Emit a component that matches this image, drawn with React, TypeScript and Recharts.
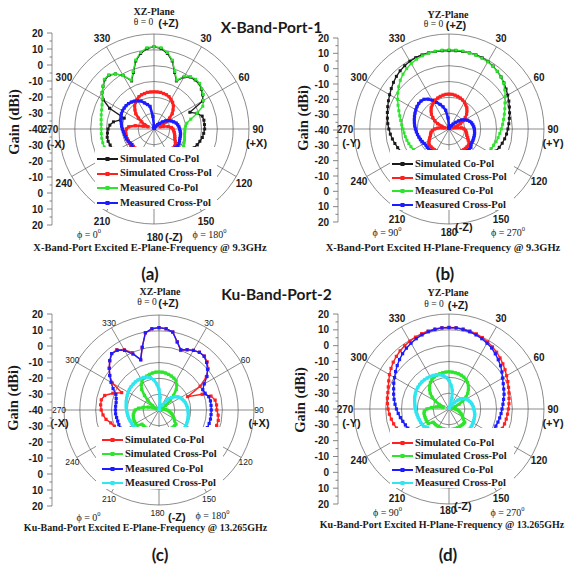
import React from "react";
import {
  RadarChart,
  Radar,
  PolarGrid,
  PolarAngleAxis,
  PolarRadiusAxis,
  Legend,
  LineChart,
  Line,
  XAxis,
  YAxis,
} from "recharts";

// polar angle categories (theta, clockwise from +Z), 5 degree steps
const thetaDeg = [
  0, 5, 10, 15, 20, 25, 30, 35, 40, 45, 50, 55, 60, 65, 70, 75, 80, 85, 90, 95, 100, 105, 110, 115,
  120, 125, 130, 135, 140, 145, 150, 155, 160, 165, 170, 175, 180, 185, 190, 195, 200, 205, 210, 215,
  220, 225, 230, 235, 240, 245, 250, 255, 260, 265, 270, 275, 280, 285, 290, 295, 300, 305, 310, 315,
  320, 325, 330, 335, 340, 345, 350, 355,
];
const spokeAngles = [0, 30, 60, 90, 120, 150, 180, 210, 240, 270, 300, 330];
const ringTicks = [-30, -20, -10, 0, 10, 20];
// folded gain scale: 20 ... -40 (centre) ... 20
const gainTicks = [-60, -55, -50, -45, -40, -35, -30, -25, -20, -15, -10, -5, 0, 5, 10, 15, 20, 25, 30, 35, 40, 45, 50, 55, 60];

// (a) X-band E-plane, gain in dBi
const aSimCo = [
  12, 11, 8.5, 4.5, -2, -6.5, -2, 0, 0.5, 0.5, -1, -2.5, -4.5, -15, -11, -8.5, -8, -8, -8, -8.5, -9, -10, -11, -12, -13, -14,
  -15, -15, -15, -15, -15, -15, -15, -15, -15, -15, -15, -15, -15, -15, -15, -15, -15, -15, -15, -15, -15,
  -12, -11.5, -11, -10.5, -10, -10, -10.5, -11, -12, -14, -18, -20, -9, -3, 0, 2, 4, 4.3, 2.5, -1, -6.5, -2, 4.5, 8.5, 11,
];
const aSimX = [
  -16.5, -16.5, -16.5, -16.8, -17, -17.5, -18.5, -19.5, -21, -23, -25, -28, -31, -33.5, -36, -34, -31, -29, -28, -27.5, -27, -26.5, -26, -25.5, -24.5, -23.5,
  -23, -23, -23, -23, -23, -23, -23, -23, -23, -23, -23, -23, -23, -23, -23, -23, -23, -23, -23, -23, -23,
  -22, -22, -22, -22, -22, -22, -22, -22.5, -24, -28, -33, -36, -33.5, -31, -28, -25, -23, -21, -19.5, -18.5, -17.5, -17, -16.8, -16.5, -16.5,
];
const aMeasCo = [
  12, 11.5, 9, 5, -1.5, -6, -1.5, 0.3, 1, 0.8, -0.5, -2, -4, -6, -11, -16, -19, -20, -20.5, -20.5, -20.5, -20, -19.5, -19, -18.5, -18,
  -18, -18, -18, -18, -18, -18, -18, -18, -18, -18, -18, -18, -18, -18, -18, -18, -18, -18, -18, -18, -18,
  -7, -7, -6.8, -6.6, -6.5, -6.5, -6.6, -6.7, -6.5, -6.1, -5.5, -4.8, -3.8, -2.3, 0, 2, 4.4, 4.5, 2.5, -1, -6, -1.5, 5, 9, 11.5,
];
const aMeasX = [
  -38, -39, -39.5, -39.5, -39.5, -39.5, -39, -38, -36.5, -35, -33, -31, -29.5, -28, -26.8, -25.5, -24.8, -24.2, -23.8, -23.4, -23, -22.8, -22.6, -22.2, -21.8, -21.5,
  -22, -22, -22, -22, -22, -22, -22, -22, -22, -22, -22, -22, -22, -22, -22, -22, -22, -22, -22, -22, -22,
  -23, -22.5, -22, -21.5, -21.3, -21, -20.5, -20, -19.5, -19, -18.4, -17.8, -17.3, -17, -17, -17, -17.3, -17.8, -18.5, -19.5, -20.5, -22.5, -24, -25.5, -32,
];

// (b) X-band H-plane
const bSimCo = [
  9.5, 9.6, 9.7, 9.8, 9.8, 9.6, 9.2, 8.5, 7.5, 6.5, 5.3, 4, 2.8, 1.7, 0.6, -0.4, -1.3, -2.1, -2.8, -3.5, -4.3, -5.2, -6.2, -7.2, -8.2, -9.2,
  -12, -12, -12, -12, -12, -12, -12, -12, -12, -12, -12, -12, -12, -12, -12, -12, -12, -12, -12, -12, -12,
  -8.5, -7.5, -6.5, -5.5, -4.6, -3.7, -2.8, -2, -1.2, -0.5, 0.3, 1.2, 2.2, 3.3, 4.5, 5.8, 7, 8, 8.8, 9.4, 9.7, 9.8, 9.8, 9.7, 9.6,
];
const bSimX = [
  -18, -18, -18.3, -18.7, -19.2, -19.8, -20.5, -21.5, -22.5, -24, -25.5, -27.5, -29.5, -32, -35, -37.5, -35, -32, -30.5, -29.5, -29, -28.5, -28, -27, -26, -24.5,
  -24, -24, -24, -24, -24, -24, -24, -24, -24, -24, -24, -24, -24, -24, -24, -24, -24, -24, -24, -24, -24,
  -24.5, -25.5, -26.5, -27.5, -28, -28.5, -29.5, -31, -33, -36, -37.5, -35, -32, -29.5, -27.5, -25.5, -24, -22.5, -21.5, -20.5, -19.8, -19.2, -18.7, -18.3, -18,
];
const bMeasCo = [
  10, 10, 10, 9.8, 9.6, 9.3, 9, 8.3, 7.5, 6.5, 5, 3, 1, -1, -2.5, -3.8, -5, -6, -7, -7.8, -8.5, -9.2, -10, -10.7, -11.4, -12,
  -14, -14, -14, -14, -14, -14, -14, -14, -14, -14, -14, -14, -14, -14, -14, -14, -14, -14, -14, -14, -14,
  -14.5, -14, -13.5, -13, -12.5, -12, -11.5, -11, -10, -9, -7.8, -6.3, -4.5, -2.5, -0.5, 1.5, 3.5, 5.2, 6.6, 7.7, 8.6, 9.2, 9.6, 9.9, 10,
];
const bMeasX = [
  -38, -39, -39.5, -39.5, -39.5, -39.5, -39, -37.5, -36, -34, -32, -30, -28.5, -27, -26, -25.2, -24.7, -24.3, -24, -23.8, -23.6, -23.5, -23.4, -23.3, -23.2, -23,
  -22, -22, -22, -22, -22, -22, -22, -22, -22, -22, -22, -22, -22, -22, -22, -22, -22, -22, -22, -22, -22,
  -22.2, -21.8, -21.3, -20.8, -20.3, -19.8, -19.3, -18.8, -18.3, -17.8, -17.3, -16.8, -16.3, -15.8, -15.3, -15, -15, -15.5, -17, -19, -21.5, -23.5, -25.5, -28, -33,
];

// (c) Ku-band E-plane
const cSimCo = [
  12, 11.5, 10, 4.5, 0, 2, 3.5, 4.5, 4.5, 3, 0.5, -3.5, -10, -20, -11, -6, -4, -3.5, -3.5, -2.5, -2, -2.3, -3, -4, -5, -6,
  -8, -8, -8, -8, -8, -8, -8, -8, -8, -8, -8, -8, -8, -8, -8, -8, -8, -8, -8, -8, -8,
  -12, -12, -11, -10, -8.5, -6, -4.5, -3.5, -3, -3, -4.5, -9, -14, -6, -2, 1, 4, 6.5, 6.5, 4, 0, -6.5, 1, 9.5, 11.5,
];
const cSimX = [
  -16, -16, -16.3, -16.7, -17.2, -17.8, -18.5, -20.5, -23, -27, -31, -35, -38, -39, -39, -38, -37, -36, -35, -34, -33, -32, -31, -30, -29, -28,
  -26, -26, -26, -26, -26, -26, -26, -26, -26, -26, -26, -26, -26, -26, -26, -26, -26, -26, -26, -26, -26,
  -23, -23, -23, -23, -23.2, -23.5, -24.2, -25, -27, -30, -33, -36, -38, -38, -35, -31, -27, -23, -20.5, -18.5, -17.8, -17.2, -16.7, -16.3, -16,
];
const cMeasCo = [
  12, 11.5, 10, 4.5, 0.5, 2, 3.5, 4.5, 4.3, 2.5, 0, -3, -7, -9.5, -9, -7.5, -7, -7, -7, -7, -7, -7.2, -7.5, -8, -8.5, -9,
  -10, -10, -10, -10, -10, -10, -10, -10, -10, -10, -10, -10, -10, -10, -10, -10, -10, -10, -10, -10, -10,
  -13, -13, -13, -13, -13, -12.8, -12.5, -12.5, -12.5, -12.5, -12, -11, -8, -5, -2, 1, 4, 6.5, 6, 3.5, -1, -6, 1, 9.5, 11.5,
];
const cMeasX = [
  -27, -32, -37, -39.5, -39.5, -39.5, -39, -36, -31.5, -29, -27, -25.5, -24.5, -23.8, -23.2, -22.7, -22.3, -22, -21.7, -21.5, -21.2, -21, -20.8, -20.6, -20.4, -20.2,
  -21, -21, -21, -21, -21, -21, -21, -21, -21, -21, -21, -21, -21, -21, -21, -21, -21, -21, -21, -21, -21,
  -21.5, -21, -20.8, -20.5, -20.2, -20, -19.8, -19.5, -19.2, -19, -18.6, -18.2, -17.9, -17.5, -17.2, -17, -16.9, -16.8, -16.9, -17, -17.3, -17.8, -18.8, -20.5, -23.5,
];

// (d) Ku-band H-plane
const dSimCo = [
  11.5, 11.5, 11.3, 11, 10.5, 9.8, 8.9, 7.9, 6.8, 5.6, 4.4, 3.2, 2, 1, 0, -0.8, -1.5, -2, -2.5, -2.9, -3.3, -3.7, -4.2, -4.7, -5.3, -6,
  -10, -10, -10, -10, -10, -10, -10, -10, -10, -10, -10, -10, -10, -10, -10, -10, -10, -10, -10, -10, -10,
  -6.5, -5.8, -5.2, -4.7, -3.8, -3, -2.2, -1.5, -1, -0.5, 0, 0.8, 2, 3.4, 4.7, 6, 7, 8, 8.8, 9.5, 10.1, 10.6, 11, 11.3, 11.5,
];
const dSimX = [
  -16.5, -16.6, -16.8, -17, -17.3, -17.8, -18.5, -19.5, -21, -22.7, -24.5, -27, -30, -33, -36, -38.5, -38, -37, -36, -35, -34, -33, -32, -31, -30, -29,
  -27, -27, -27, -27, -27, -27, -27, -27, -27, -27, -27, -27, -27, -27, -27, -27, -27, -27, -27, -27, -27,
  -24, -24, -24, -24, -24, -24, -24.3, -26, -29, -32, -36, -36, -33, -30, -27, -24.5, -22.7, -21, -19.5, -18.5, -17.8, -17.3, -17, -16.8, -16.6,
];
const dMeasCo = [
  11.5, 11.4, 11, 10.5, 9.8, 9, 8, 7, 5.5, 4, 2.5, 0.8, -1, -2.2, -3.2, -4, -5, -5.8, -6.5, -7, -7.5, -8, -8.5, -9, -9.5, -10,
  -13, -13, -13, -13, -13, -13, -13, -13, -13, -13, -13, -13, -13, -13, -13, -13, -13, -13, -13, -13, -13,
  -13, -12, -11.3, -10.7, -9.8, -8.8, -7.8, -6.8, -5.8, -4.8, -3.8, -2.8, -1.5, -0.3, 1.2, 2.7, 4.2, 5.6, 6.9, 8, 9, 9.8, 10.5, 11, 11.4,
];
const dMeasX = [
  -22, -25, -28, -33, -38, -39.5, -39.5, -37, -34.5, -32, -30, -28.5, -27.5, -26.7, -26, -25.5, -25, -24.6, -24.3, -23.9, -23.5, -23.2, -23, -22.7, -22.5, -22.2,
  -22, -22, -22, -22, -22, -22, -22, -22, -22, -22, -22, -22, -22, -22, -22, -22, -22, -22, -22, -22, -22,
  -20.8, -20.5, -20.2, -20, -19.8, -19.5, -19.1, -18.8, -18.4, -18, -17.5, -17, -16.6, -16.2, -16, -15.8, -15.8, -15.9, -16.1, -16.3, -16.6, -17, -17.6, -18.5, -20,
];

const SERIF = '"Liberation Serif", "Times New Roman", serif';
const SANS = '"Liberation Sans", Arial, sans-serif';
const R = 95;

const BLACK = "#1a1a1a";
const RED = "#ff2020";
const GREEN = "#2ee52e";
const BLUE = "#1c1cff";
const CYAN = "#30e6f0";

const gainRows = gainTicks.map((g, i) => ({ i, g }));

const squareDot = (color: string, size: number) => (p: any) => (
  <rect key={p.key} x={p.cx - size / 2} y={p.cy - size / 2} width={size} height={size} fill={color} />
);

function Txt({ x, y, children, size = 10, weight = 700, family = SERIF, rotate = 0 }: any) {
  return (
    <div
      style={{
        position: "absolute",
        left: x,
        top: y,
        transform: `translate(-50%, -50%)${rotate ? ` rotate(${rotate}deg)` : ""}`,
        fontSize: size,
        fontWeight: weight,
        fontFamily: family,
        color: "#1a1a1a",
        whiteSpace: "nowrap",
        lineHeight: 1,
      }}
    >
      {children}
    </div>
  );
}

function AngleTick(tp: any) {
  const { x, y, payload, cfg } = tp;
  const v = payload.value;
  if (v === 0 || v % 30 !== 0) return <g />;
  const base = { fontFamily: SANS, fontSize: cfg.angleSize, fontWeight: cfg.angleWeight, fill: "#1a1a1a" };
  const big = { fontFamily: SANS, fontSize: 11, fontWeight: 700, fill: "#1a1a1a" };
  if (v === 180) {
    const z = cfg.z;
    return (
      <g>
        <text x={x + z[0]} y={y + z[1]} textAnchor="middle" dominantBaseline="central" {...base}>180</text>
        <text x={x + z[2]} y={y + z[3]} textAnchor="start" dominantBaseline="central" {...big}>(-Z)</text>
      </g>
    );
  }
  const lower = y > cfg.cy + 30;
  const side = v === 270 ? cfg.sideNeg : v === 90 ? cfg.sidePos : null;
  return (
    <g>
      <text x={x} y={y + (lower ? cfg.lowerDy : 0)} textAnchor="middle" dominantBaseline="central" {...base}>{v}</text>
      {side && (
        <text x={x + side[1]} y={y + side[2]} textAnchor="middle" dominantBaseline="central" {...big}>{side[0]}</text>
      )}
    </g>
  );
}

function GainTick(tp: any) {
  const v = tp.payload.value;
  const major = v % 10 === 0;
  const ax = tp.x + 8;
  return (
    <g>
      <line x1={ax - (major ? 5 : 2.5)} x2={ax} y1={tp.y} y2={tp.y} stroke="#666" strokeWidth={0.8} />
      {major && (
        <text x={tp.x - 1} y={tp.y} textAnchor="end" dominantBaseline="central" fontFamily={SANS} fontSize={10} fontWeight={700} fill="#1a1a1a">
          {Math.abs(v) - 40}
        </text>
      )}
    </g>
  );
}

function LegendBox({ series, rowH, padTop, padLeft }: any) {
  return (
    <div style={{ paddingTop: padTop, paddingLeft: padLeft }}>
      {series.map((s: any) => (
        <div key={s.key} style={{ display: "flex", alignItems: "center", height: rowH }}>
          <svg width={21} height={8}>
            <line x1={0} x2={21} y1={4} y2={4} stroke={s.color} strokeWidth={2} />
            <rect x={8.5} y={2} width={4} height={4} fill={s.color} />
          </svg>
          <span style={{ marginLeft: 2, fontFamily: SERIF, fontWeight: 700, fontSize: 10.5, color: "#1a1a1a", lineHeight: 1 }}>
            {s.name}
          </span>
        </div>
      ))}
    </div>
  );
}

function Panel(p: any) {
  const rows = thetaDeg.map((t, i) => {
    const r: any = { theta: t };
    p.series.forEach((s: any) => (r[s.key] = s.values[i]));
    return r;
  });
  const lg = p.legend;
  const ax = p.axis;
  return (
    <div style={{ position: "absolute", left: p.x, top: p.y, width: 286, height: 288 }}>
      <RadarChart width={286} height={282} data={rows} cx={p.cx} cy={p.cy} outerRadius={R} margin={{ top: 0, right: 0, bottom: 0, left: 0 }}>
        <PolarGrid gridType="circle" polarAngles={spokeAngles} stroke="#5a5a5a" strokeWidth={0.7} />
        <PolarAngleAxis
          dataKey="theta"
          type="category"
          axisLine={false}
          tickLine={false}
          tickSize={p.angleTickSize}
          tick={(tp: any) => <AngleTick {...tp} cfg={p} />}
        />
        <PolarRadiusAxis domain={[-40, 20]} ticks={ringTicks} tick={false} axisLine={false} tickLine={false} />
        {p.series.map((s: any) => (
          <Radar
            key={s.key}
            dataKey={s.key}
            name={s.name}
            stroke={s.color}
            strokeWidth={s.width}
            fill="none"
            fillOpacity={0}
            dot={squareDot(s.color, s.dot)}
            isAnimationActive={false}
          />
        ))}
        <Legend
          content={() => <LegendBox series={p.series} rowH={lg.rowH} padTop={lg.padTop} padLeft={lg.padLeft} />}
          wrapperStyle={{ left: lg.left, top: lg.top, width: lg.width, height: lg.height, background: "#fff" }}
        />
      </RadarChart>

      <div style={{ position: "absolute", left: ax.x - 52, top: ax.cy - ax.half - 8 }}>
        <LineChart width={58} height={2 * ax.half + 16} data={gainRows} margin={{ top: 8, bottom: 8, left: 0, right: 4 }}>
          <XAxis hide dataKey="i" />
          <YAxis
            width={52}
            type="number"
            domain={[-60, 60]}
            ticks={gainTicks}
            interval={0}
            tickLine={false}
            tickSize={5}
            tickMargin={3}
            axisLine={{ stroke: "#777", strokeWidth: 0.8 }}
            tick={GainTick}
          />
          <Line dataKey="g" stroke="none" dot={false} activeDot={false} isAnimationActive={false} />
        </LineChart>
      </div>

      <Txt x={p.gainLabel[0]} y={p.gainLabel[1]} size={14.5} rotate={-90}>Gain (dBi)</Txt>
      <Txt x={p.plane[0]} y={p.plane[1]} size={10}>{p.planeName}</Txt>
      <Txt x={p.theta[0]} y={p.theta[1]} size={9.5} weight={400}>θ = 0</Txt>
      <Txt x={p.theta[2]} y={p.theta[1]} size={11} family={SANS}>(+Z)</Txt>
      <Txt x={p.phiL[0]} y={p.phiL[1]} size={10} weight={400}>
        ϕ = {p.phiL[2]}<sup style={{ fontSize: 6.5 }}>0</sup>
      </Txt>
      <Txt x={p.phiR[0]} y={p.phiR[1]} size={10} weight={400}>
        ϕ = {p.phiR[2]}<sup style={{ fontSize: 6.5 }}>0</sup>
      </Txt>
      <Txt x={p.caption[0]} y={p.caption[1]} size={p.captionSize}>{p.captionText}</Txt>
      <Txt x={p.tag[0]} y={p.tag[1]} size={17} family="Lato, sans-serif">{p.tagText}</Txt>
    </div>
  );
}

const xSeries = (simCo: number[], simX: number[], measCo: number[], measX: number[]) => [
  { key: "simCo", name: "Simulated Co-Pol", color: BLACK, width: 1.3, dot: 3, values: simCo },
  { key: "simX", name: "Simulated Cross-Pol", color: RED, width: 2.6, dot: 3.2, values: simX },
  { key: "measCo", name: "Measured Co-Pol", color: GREEN, width: 1.4, dot: 3, values: measCo },
  { key: "measX", name: "Measured Cross-Pol", color: BLUE, width: 2.6, dot: 3.2, values: measX },
];
const kuSeries = (simCo: number[], simX: number[], measCo: number[], measX: number[]) => [
  { key: "simCo", name: "Simulated Co-Pol", color: RED, width: 1.4, dot: 3.2, values: simCo },
  { key: "simX", name: "Simulated Cross-Pol", color: GREEN, width: 2.6, dot: 3.2, values: simX },
  { key: "measCo", name: "Measured Co-Pol", color: BLUE, width: 1.4, dot: 3.2, values: measCo },
  { key: "measX", name: "Measured Cross-Pol", color: CYAN, width: 3, dot: 3.2, values: measX },
];

export default function App() {
  return (
    <div style={{ position: "relative", width: 571, height: 568, background: "#fff", overflow: "hidden" }}>
      <style>{"body{margin:0}"}</style>
      <Panel
        x={0} y={0} cx={154} cy={129}
        series={xSeries(aSimCo, aSimX, aMeasCo, aMeasX)}
        legend={{ left: 95, top: 147, width: 122, height: 62, rowH: 14.7, padTop: 4.6, padLeft: 2 }}
        axis={{ x: 52, cy: 129, half: 96 }}
        gainLabel={[14, 122]}
        angleSize={10} angleWeight={700} angleTickSize={9} lowerDy={2}
        z={[1, 4, 11, 4]} sideNeg={["(-X)", 6, 15]} sidePos={["(+X)", -1.5, 14]}
        planeName="XZ-Plane" plane={[154, 12]} theta={[143.5, 23, 168.5]}
        phiL={[89, 234, "0"]} phiR={[209.5, 234, "180"]}
        captionText="X-Band-Port Excited E-Plane-Frequency @ 9.3GHz" caption={[150, 248]} captionSize={10.5}
        tagText="(a)" tag={[150, 273]}
      />
      <Panel
        x={285} y={0} cx={164} cy={129}
        series={xSeries(bSimCo, bSimX, bMeasCo, bMeasX)}
        legend={{ left: 105, top: 150, width: 124, height: 60, rowH: 13.6, padTop: 7.2, padLeft: 2 }}
        axis={{ x: 53, cy: 130, half: 92 }}
        gainLabel={[18, 118]}
        angleSize={10} angleWeight={700} angleTickSize={9} lowerDy={0}
        z={[0, -1, 6, -6]} sideNeg={["(-Y)", 6.5, 14]} sidePos={["(+Y)", 0, 14]}
        planeName="YZ-Plane" plane={[163, 15]} theta={[148.5, 25, 171]}
        phiL={[102, 232, "90"]} phiR={[223, 232, "270"]}
        captionText="X-Band-Port Excited H-Plane-Frequency @ 9.3GHz" caption={[158, 248]} captionSize={10.5}
        tagText="(b)" tag={[160, 273]}
      />
      <Panel
        x={0} y={280} cx={159} cy={130}
        series={kuSeries(cSimCo, cSimX, cMeasCo, cMeasX)}
        legend={{ left: 96, top: 147, width: 127, height: 62, rowH: 14.4, padTop: 5.8, padLeft: 6 }}
        axis={{ x: 52, cy: 129.5, half: 96 }}
        gainLabel={[13, 118]}
        angleSize={8.5} angleWeight={400} angleTickSize={5} lowerDy={2}
        z={[-1.5, 3, 9, 7]} sideNeg={["(-X)", 0.5, 13]} sidePos={["(+X)", 0, 13]}
        planeName="XZ-Plane" plane={[160, 12]} theta={[147, 23, 168.5]}
        phiL={[88.5, 237, "0"]} phiR={[212.5, 235, "180"]}
        captionText="Ku-Band-Port Excited E-Plane-Frequency @ 13.265GHz" caption={[145.5, 248]} captionSize={10}
        tagText="(c)" tag={[160, 274]}
      />
      <Panel
        x={285} y={280} cx={164} cy={129}
        series={kuSeries(dSimCo, dSimX, dMeasCo, dMeasX)}
        legend={{ left: 105, top: 148, width: 124, height: 60, rowH: 13.5, padTop: 8.2, padLeft: 2 }}
        axis={{ x: 53, cy: 128.5, half: 95 }}
        gainLabel={[15, 120]}
        angleSize={10} angleWeight={700} angleTickSize={9} lowerDy={-1}
        z={[-1, -3, 5, -7]} sideNeg={["(-Y)", 6.5, 14]} sidePos={["(+Y)", 0, 14]}
        planeName="YZ-Plane" plane={[163, 13]} theta={[149, 25, 173]}
        phiL={[102.5, 232, "90"]} phiR={[222.5, 232, "270"]}
        captionText="Ku-Band-Port Excited H-Plane-Frequency @ 13.265GHz" caption={[157, 245]} captionSize={10}
        tagText="(d)" tag={[163, 274]}
      />
      <Txt x={271.5} y={28} size={15.5} family="Lato, sans-serif">X-Band-Port-1</Txt>
      <Txt x={276.5} y={295} size={15.5} family="Lato, sans-serif">Ku-Band-Port-2</Txt>
    </div>
  );
}
